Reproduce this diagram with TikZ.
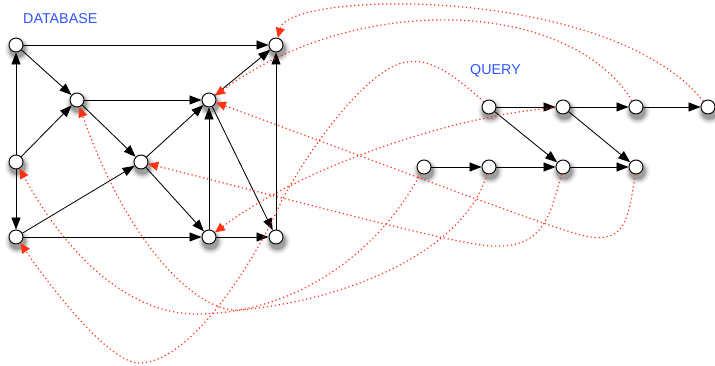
\documentclass[tikz,border=0pt]{standalone}
\usepackage{fontspec}
\setsansfont{Liberation Sans}
\usetikzlibrary{arrows.meta}

\definecolor{bleu}{RGB}{45,85,255}
\definecolor{rouge}{RGB}{255,50,20}

\tikzset{
  sommet/.style={circle, draw, line width=0.9pt, fill=white, minimum size=14pt, inner sep=0pt},
  fleche/.style={line width=0.85pt, -{Triangle[length=12pt,width=9pt]}},
  corresp/.style={rouge, line width=1.2pt, dash pattern=on 1.2pt off 2.8pt,
    -{Triangle[length=10pt,width=9pt]}},
  titre/.style={bleu, font=\sffamily\fontsize{14.3}{16}\selectfont, anchor=base west, inner sep=0pt}
}

% sommet avec son ombre floue (cercles empilés, décalés vers le bas)
\newcommand{\noeud}[2]{%
  \foreach \r/\g in {13/3, 12/7, 11/12, 10/19, 9/28, 8/38}
    \fill[black!\g] ([shift={(1.5,4.5)}]#2) circle (\r);
  \node[sommet] (#1) at (#2) {};}

\begin{document}
\begin{tikzpicture}[x=1pt, y=-1pt]
  \useasboundingbox (0,0) rectangle (715,366);

  % Titres
  \node[titre] (tbase) at (23,24) {DATABASE};
  \node[titre] (treq) at (470,75) {QUERY};

  % Sommets de la base
  \noeud{a1}{16,45}
  \noeud{a2}{276,45}
  \noeud{b1}{77,100}
  \noeud{b2}{209,100}
  \noeud{c1}{16,162}
  \noeud{c2}{141,162}
  \noeud{d1}{16,237}
  \noeud{d2}{209,237}
  \noeud{d3}{276,237}

  % Sommets de la requête
  \noeud{q1}{489,107}
  \noeud{q2}{563,107}
  \noeud{q3}{636,107}
  \noeud{q4}{708,107}
  \noeud{r1}{424,167}
  \noeud{r2}{489,167}
  \noeud{r3}{563,167}
  \noeud{r4}{636,167}

  % Arcs de la base
  \draw[fleche] (a1) -- (a2);
  \draw[fleche] (a1) -- (b1);
  \draw[fleche] (c1) -- (a1);
  \draw[fleche] (c1) -- (b1);
  \draw[fleche] (c1) -- (d1);
  \draw[fleche] (b1) -- (b2);
  \draw[fleche] (b1) -- (c2);
  \draw[fleche] (c2) -- (b2);
  \draw[fleche] (d1) -- (c2);
  \draw[fleche] (d1) -- (d2);
  \draw[fleche] (c2) -- (d2);
  \draw[fleche] (d2) -- (b2);
  \draw[fleche] (b2) -- (a2);
  \draw[fleche] (b2) -- (d3);
  \draw[fleche] (d2) -- (d3);
  \draw[fleche] (d3) -- (a2);

  % Arcs de la requête
  \draw[fleche] (q1) -- (q2);
  \draw[fleche] (q2) -- (q3);
  \draw[fleche] (q3) -- (q4);
  \draw[fleche] (q1) -- (r3);
  \draw[fleche] (q2) -- (r4);
  \draw[fleche] (r1) -- (r2);
  \draw[fleche] (r2) -- (r3);
  \draw[fleche] (r3) -- (r4);

  % Correspondances requête -> base (pointillés rouges)
  \draw[corresp] (q4) .. controls (610,-15) and (290,-10) .. (a2);
  \draw[corresp] (q3) .. controls (570,0) and (360,-10) .. (b2);
  \draw[corresp] (q2) .. controls (450,116) and (300,168) .. (d2);
  \draw[corresp] (q1) .. controls (455,75) and (430,58) .. (407,62)
    .. controls (375,65) and (320,130) .. (282,200)
    .. controls (262,247) and (195,362) .. (140,363)
    .. controls (112,364) and (60,300) .. (d1);
  \draw[corresp] (r1) .. controls (380,250) and (300,312) .. (200,314)
    .. controls (140,316) and (75,270) .. (c1);
  \draw[corresp] (r2) .. controls (465,250) and (350,300) .. (240,310)
    .. controls (200,314) and (130,250) .. (b1);
  \draw[corresp] (r3) .. controls (548,230) and (535,248) .. (490,246)
    .. controls (450,243) and (300,202) .. (c2);
  \draw[corresp] (r4) .. controls (628,230) and (620,240) .. (590,237)
    .. controls (565,234) and (400,170) .. (b2);

\end{tikzpicture}
\end{document}
